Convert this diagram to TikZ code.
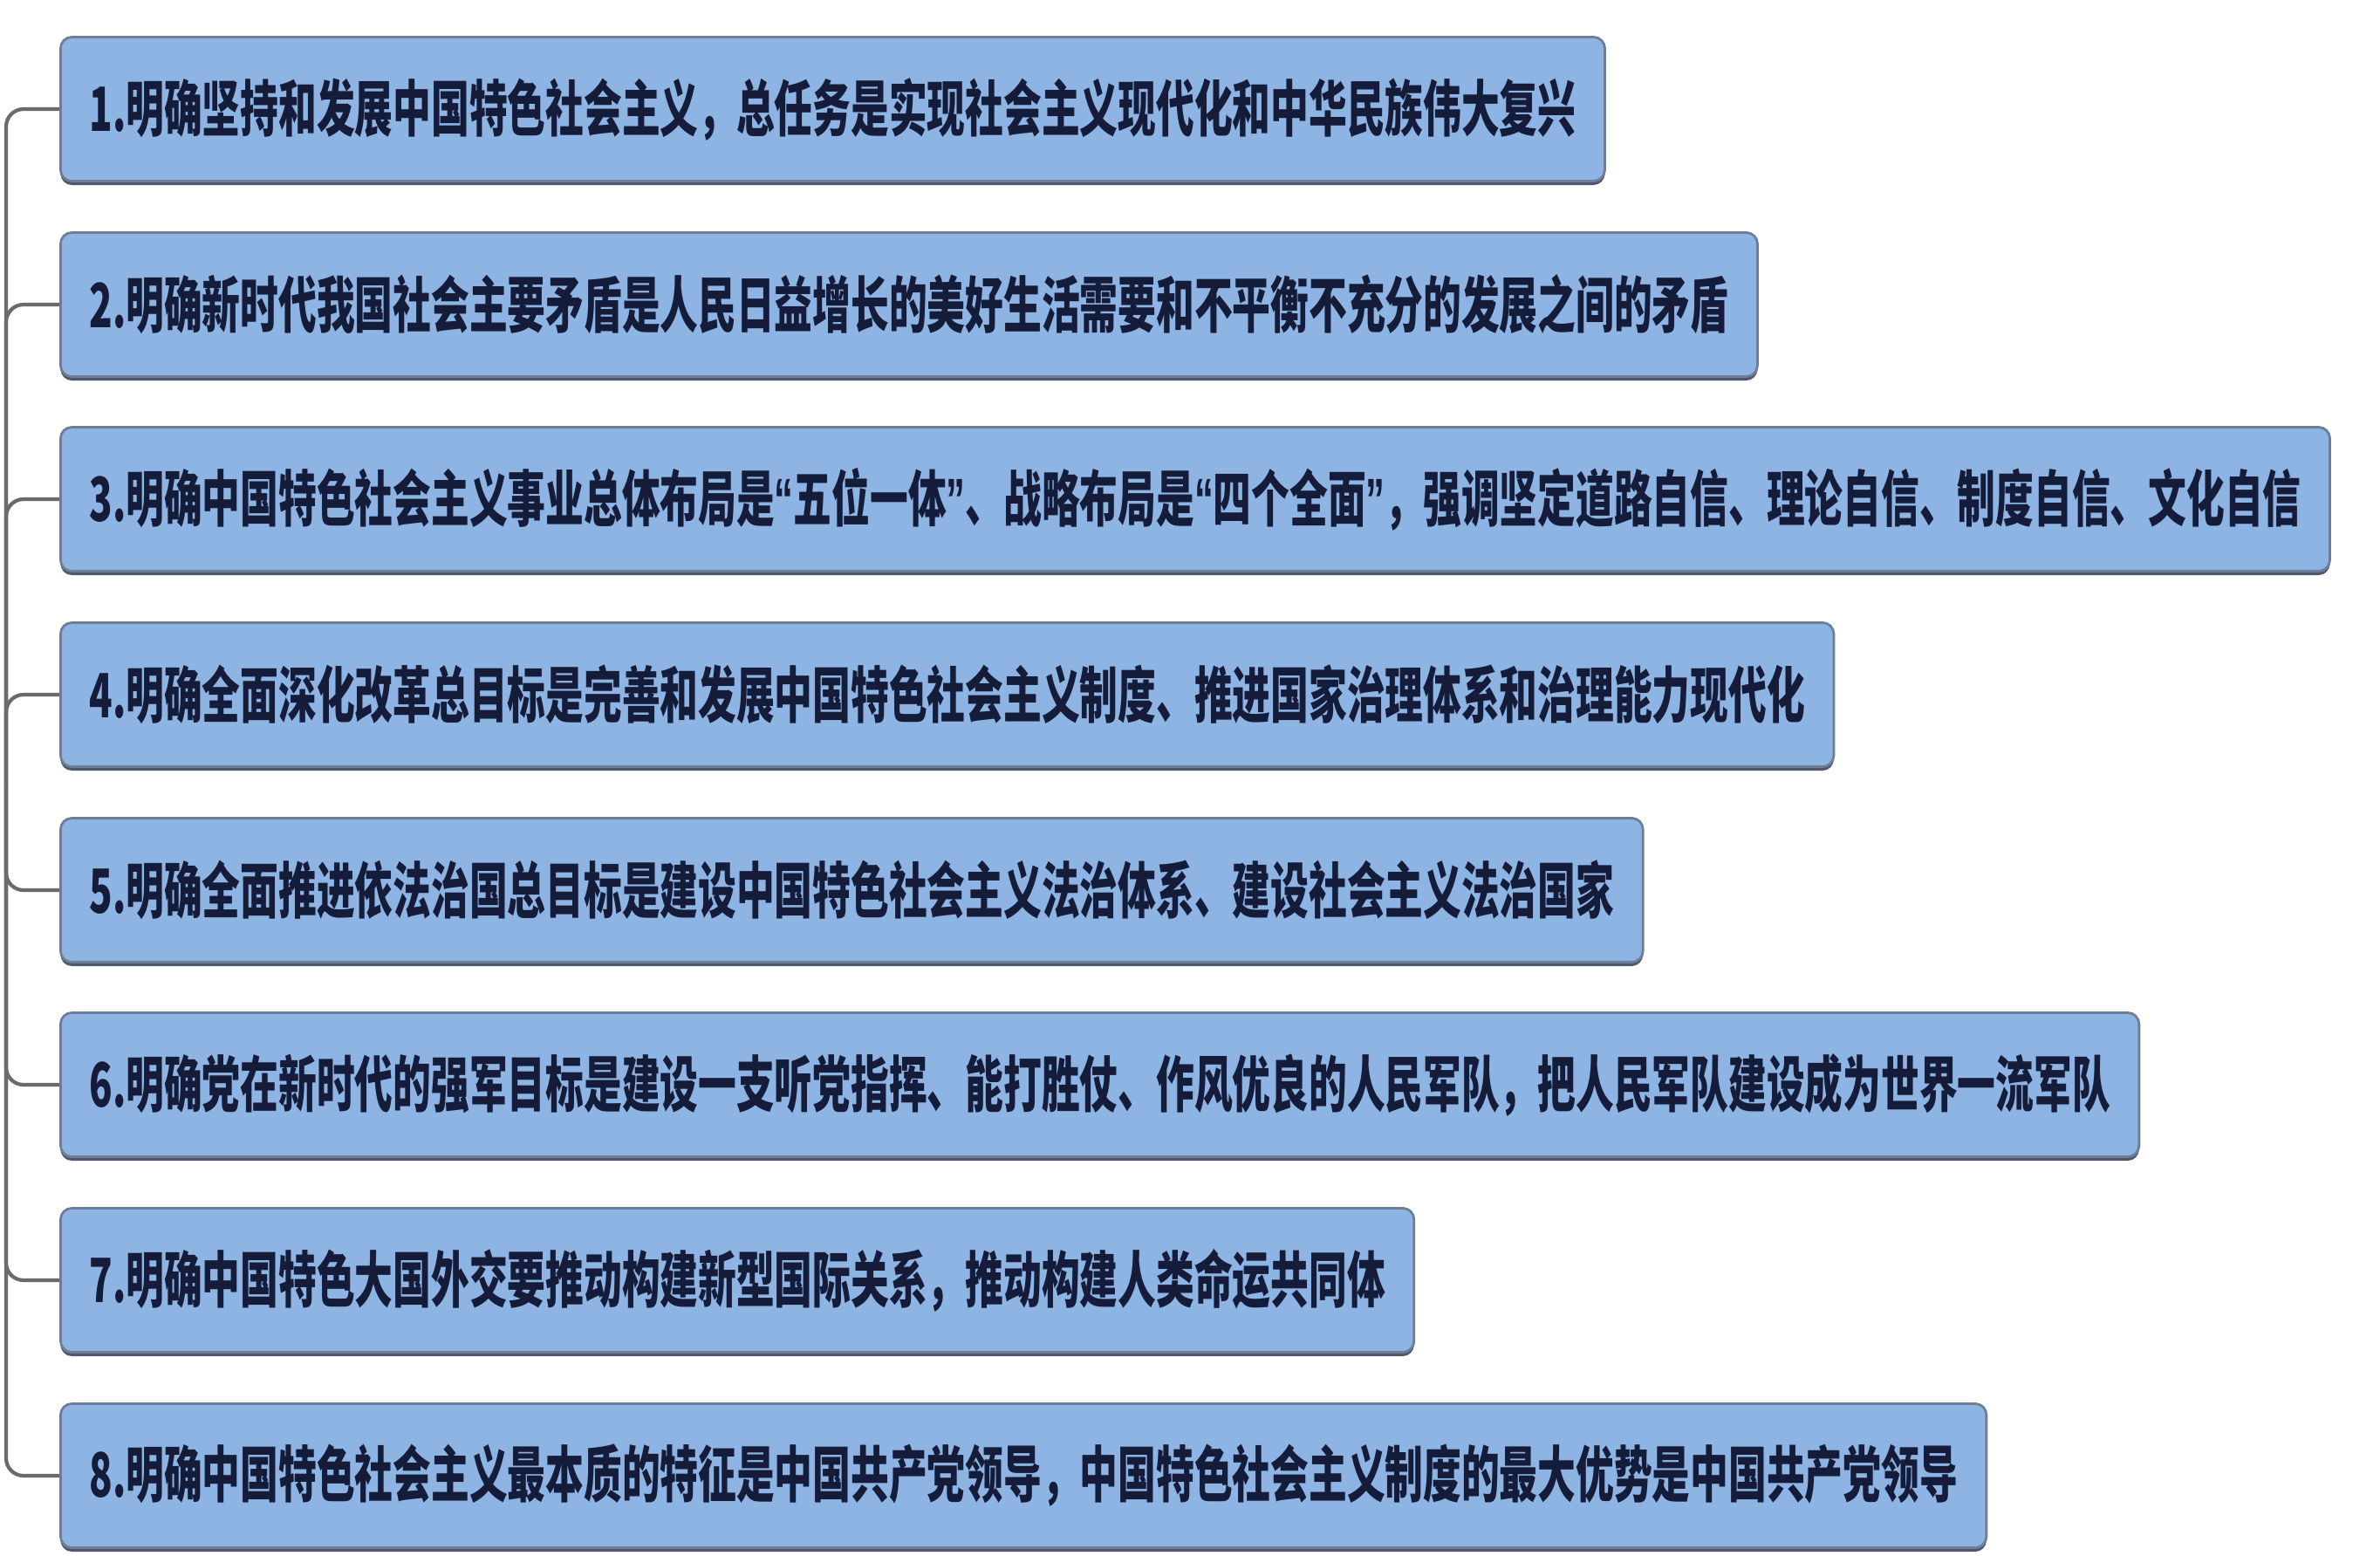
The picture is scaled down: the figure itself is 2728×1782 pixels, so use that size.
\documentclass[tikz,border=0pt]{standalone}
\usepackage{fontspec}
\newfontfamily\cjk[FakeStretch=0.625]{Noto Sans CJK SC}
\newfontfamily\narrowq[FakeStretch=0.625]{Liberation Sans}
\newcommand\qopen{{\narrowq\bfseries “}}
\newcommand\qclose{{\narrowq\bfseries ”}}
\usetikzlibrary{shadows}
\definecolor{boxblue}{HTML}{8DB4E3}
\definecolor{boxline}{HTML}{6F7E98}
\definecolor{textnavy}{HTML}{141C3A}
\definecolor{branchgray}{HTML}{6A6A6A}

\begin{document}
\begin{tikzpicture}[x=0.01cm,y=-0.01cm,
  point/.style={draw=boxline, line width=0.8pt, fill=boxblue, rounded corners=0.13cm,
    anchor=west, minimum height=1.65cm, inner xsep=0.33cm, text=textnavy,
    font=\cjk\bfseries\fontsize{19.9pt}{24pt}\selectfont,
    drop shadow={shadow xshift=0pt, shadow yshift=-0.045cm, fill=boxline!70!black, opacity=1}},
  branch/.style={draw=branchgray, line width=1.2pt, rounded corners=0.2cm,
    to path={-| (\tikztotarget)}}]
  \useasboundingbox (0,0) rectangle (2728,1782);
  \coordinate (R) at (7,900);
  \node[point] (A) at (68,125) {1.明确坚持和发展中国特色社会主义，总任务是实现社会主义现代化和中华民族伟大复兴} edge[branch] (R);
  \node[point] (B) at (68,349) {2.明确新时代我国社会主要矛盾是人民日益增长的美好生活需要和不平衡不充分的发展之间的矛盾} edge[branch] (R);
  \node[point] (C) at (68,572) {3.明确中国特色社会主义事业总体布局是\qopen 五位一体\qclose 、战略布局是\qopen 四个全面\qclose ，强调坚定道路自信、理论自信、制度自信、文化自信} edge[branch] (R);
  \node[point] (D) at (68,796) {4.明确全面深化改革总目标是完善和发展中国特色社会主义制度、推进国家治理体系和治理能力现代化} edge[branch] (R);
  \node[point] (E) at (68,1020) {5.明确全面推进依法治国总目标是建设中国特色社会主义法治体系、建设社会主义法治国家} edge[branch] (R);
  \node[point] (F) at (68,1243) {6.明确党在新时代的强军目标是建设一支听党指挥、能打胜仗、作风优良的人民军队，把人民军队建设成为世界一流军队} edge[branch] (R);
  \node[point] (G) at (68,1467) {7.明确中国特色大国外交要推动构建新型国际关系，推动构建人类命运共同体} edge[branch] (R);
  \node[point] (H) at (68,1691) {8.明确中国特色社会主义最本质的特征是中国共产党领导，中国特色社会主义制度的最大优势是中国共产党领导} edge[branch] (R);
\end{tikzpicture}
\end{document}
